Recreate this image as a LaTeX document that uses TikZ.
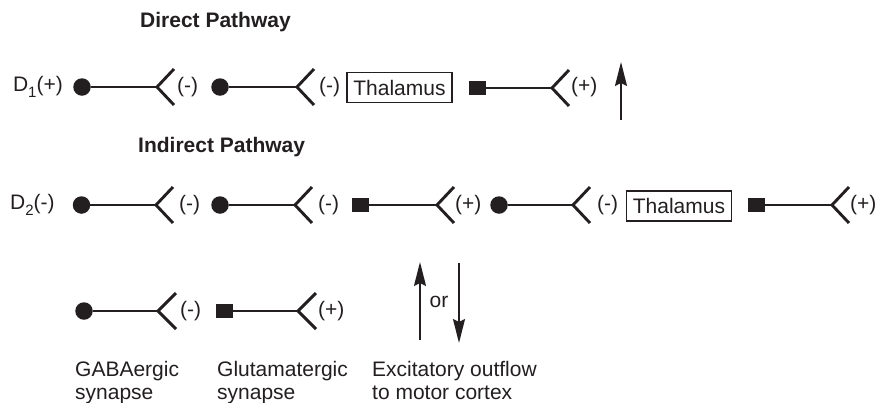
\documentclass[tikz,border=0pt]{standalone}
\usepackage{fontspec}
\setmainfont{Liberation Sans}
\usetikzlibrary{arrows.meta}
\definecolor{ink}{HTML}{231F20}
\begin{document}
\begin{tikzpicture}[x=1pt,y=1pt,
  every node/.style={font=\fontsize{21}{24}\selectfont, text=ink, inner sep=0pt},
  title/.style={font=\fontsize{21}{24}\selectfont\bfseries, anchor=base west},
  lbl/.style={anchor=west},
  txt/.style={anchor=base west},
  gdot/.style={circle, fill=ink, minimum size=17.5pt},
  gsq/.style={rectangle, fill=ink, minimum width=17pt, minimum height=14pt},
  axon/.style={draw=ink, line width=2.9pt},
  fork/.style={draw=ink, line width=2.9pt, line join=miter},
  thal/.style={draw=ink, line width=1.1pt, minimum width=105pt, minimum height=30pt},
  flow/.style={draw=ink, line width=1.9pt, -{Stealth[length=24pt,width=12pt,inset=3pt]}}
]
\useasboundingbox (0,0) rectangle (884,-402);

% ---------- Direct pathway ----------
\node[title] (tdir) at (140,-27) {Direct Pathway};
\node[anchor=east] (d1) at (63,-87) {D\raisebox{-0.3em}{\fontsize{15}{15}\selectfont 1}(+)};

\node[gdot] (a1) at (82,-87) {};
\coordinate (v1) at (157,-87);
\draw[axon] (a1) -- (v1);
\draw[fork] (v1) ++(17,18) -- (v1) -- ++(17,-18);
\node[lbl] (l1) at (177,-87) {(-)};

\node[gdot] (a2) at (220,-87) {};
\coordinate (v2) at (297,-87);
\draw[axon] (a2) -- (v2);
\draw[fork] (v2) ++(17,18) -- (v2) -- ++(17,-18);
\node[lbl] (l2) at (319,-87) {(-)};

\node[thal] (th1) at (399.5,-87.5) {Thalamus};

\node[gsq] (a3) at (477.5,-88) {};
\coordinate (v3) at (552,-88);
\draw[axon] (a3) -- (v3);
\draw[fork] (v3) ++(17,18) -- (v3) -- ++(17,-18);
\node[lbl] (l3) at (571,-87) {(+)};

\coordinate (o1s) at (621,-120);
\coordinate (o1e) at (621,-62);
\draw[flow] (o1s) -- (o1e);

% ---------- Indirect pathway ----------
\node[title] (tind) at (138,-152) {Indirect Pathway};
\node[anchor=west] (d2) at (10,-205) {D\raisebox{-0.3em}{\fontsize{15}{15}\selectfont 2}(-)};

\node[gdot] (b1) at (81.5,-205) {};
\coordinate (w1) at (156,-205);
\draw[axon] (b1) -- (w1);
\draw[fork] (w1) ++(17,18) -- (w1) -- ++(17,-18);
\node[lbl] (m1) at (179,-205) {(-)};

\node[gdot] (b2) at (220,-205) {};
\coordinate (w2) at (295,-205);
\draw[axon] (b2) -- (w2);
\draw[fork] (w2) ++(17,18) -- (w2) -- ++(17,-18);
\node[lbl] (m2) at (318,-205) {(-)};

\node[gsq] (b3) at (360.5,-205) {};
\coordinate (w3) at (437,-205);
\draw[axon] (b3) -- (w3);
\draw[fork] (w3) ++(17,18) -- (w3) -- ++(17,-18);
\node[lbl] (m3) at (455,-205) {(+)};

\node[gdot] (b4) at (499,-205) {};
\coordinate (w4) at (573,-205);
\draw[axon] (b4) -- (w4);
\draw[fork] (w4) ++(17,18) -- (w4) -- ++(17,-18);
\node[lbl] (m4) at (597,-205) {(-)};

\node[thal] (th2) at (679,-206) {Thalamus};

\node[gsq] (b5) at (756,-205) {};
\coordinate (w5) at (832,-205);
\draw[axon] (b5) -- (w5);
\draw[fork] (w5) ++(17,18) -- (w5) -- ++(17,-18);
\node[lbl] (m5) at (850,-205) {(+)};

% ---------- Legend ----------
\node[gdot] (c1) at (84,-311) {};
\coordinate (u1) at (158,-311);
\draw[axon] (c1) -- (u1);
\draw[fork] (u1) ++(18,18) -- (u1) -- ++(18,-18);
\node[lbl] (n1) at (180,-311) {(-)};

\node[gsq] (c2) at (224.5,-311) {};
\coordinate (u2) at (298,-311);
\draw[axon] (c2) -- (u2);
\draw[fork] (u2) ++(18,18) -- (u2) -- ++(18,-18);
\node[lbl] (n2) at (318,-311) {(+)};

\coordinate (up1) at (420,-340);
\coordinate (up2) at (420,-262);
\draw[flow] (up1) -- (up2);
\coordinate (dn1) at (459,-263);
\coordinate (dn2) at (459,-343);
\draw[flow] (dn1) -- (dn2);
\node (or) at (439,-302) {or};

\node[txt] (g1) at (75,-376) {GABAergic};
\node[txt] (g2) at (75,-399) {synapse};
\node[txt] (h1) at (217,-376) {Glutamatergic};
\node[txt] (h2) at (217,-399) {synapse};
\node[txt] (e1) at (372,-376) {Excitatory outflow};
\node[txt] (e2) at (372,-399) {to motor cortex};
\end{tikzpicture}
\end{document}
